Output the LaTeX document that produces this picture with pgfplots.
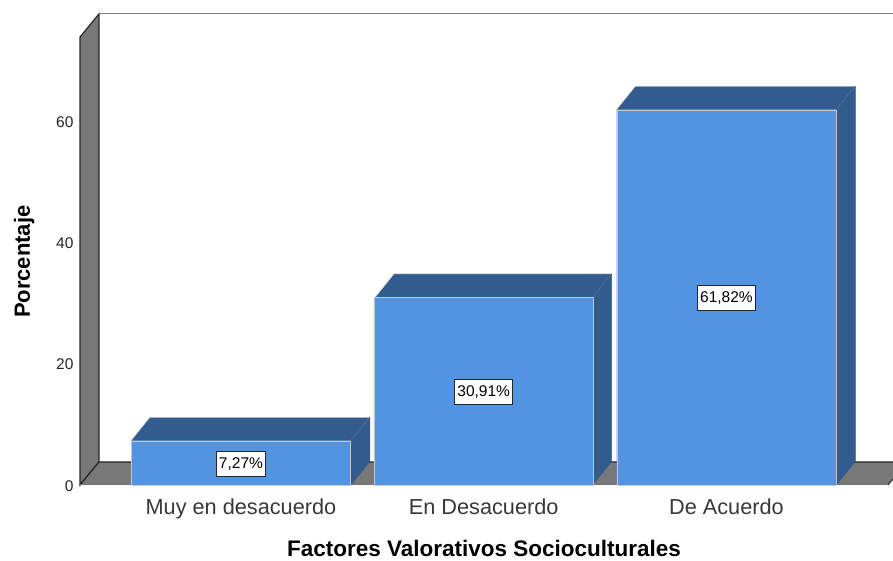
\documentclass[border=0pt]{standalone}
\usepackage{pgfplots}
\pgfplotsset{compat=1.18}
\usepackage{fontspec}
\setmainfont{Liberation Sans}
\definecolor{barfront}{HTML}{5294E2}
\definecolor{bardark}{HTML}{335C8E}
\definecolor{wallgrey}{HTML}{787878}
\definecolor{edgedark}{HTML}{262626}
\definecolor{edgelight}{HTML}{C4C8CE}
\begin{document}
\begin{tikzpicture}[x=1pt,y=1pt]
\useasboundingbox (0,0) rectangle (893,561);
\begin{axis}[
  at={(80pt,76pt)}, anchor=south west,
  scale only axis, width=813pt, height=471pt,
  xmin=-0.663, xmax=2.686, ymin=0, ymax=77.6,
  clip=false,
  axis line style={draw=none},
  tick style={draw=none},
  xtick={0,1,2},
  xticklabels={Muy en desacuerdo,En Desacuerdo,De Acuerdo},
  ytick={0,20,40,60},
  /pgf/number format/assume math mode=true,
  yticklabel style={font=\fontsize{15.5}{17}\selectfont, text=black!85, xshift=-3pt, yshift=-1pt},
  xticklabel style={font=\fontsize{21.7}{25}\selectfont, text=black!78, yshift=-10pt},
  xlabel={Factores Valorativos Socioculturales},
  ylabel={Porcentaje},
  every axis x label/.style={at={(axis description cs:0.497,-0.1345)}, anchor=center, font=\bfseries\fontsize{22.5}{26}\selectfont},
  every axis y label/.style={at={(axis description cs:-0.0688,0.474)}, anchor=center, rotate=90, font=\bfseries\fontsize{22}{26}\selectfont},
]
% left wall
\addplot[fill=wallgrey, draw=edgedark, line width=1.2pt, line join=miter] coordinates {(-0.663,0) (-0.663,73.8) (-0.585,77.6) (-0.585,3.79)} -- cycle;
% floor
\addplot[fill=wallgrey, draw=none] coordinates {(-0.663,0) (-0.585,3.79) (2.686,3.79) (2.686,0.99) (2.665,0)} -- cycle;
\addplot[draw=edgedark, line width=1.2pt] coordinates {(-0.663,0) (-0.585,3.79) (2.686,3.79)};
\addplot[draw=edgedark, line width=1pt] coordinates {(2.686,0.99) (2.665,0)};
% back top edge
\addplot[draw=black!50, line width=1pt] coordinates {(-0.585,77.6) (2.686,77.6)};
% bottom edge
\addplot[draw=black!55, line width=1pt] coordinates {(-0.663,0) (2.665,0)};
% bar tops and sides: value, value + depth
\addplot[fill=bardark, draw=edgelight, line width=0.4pt] coordinates {(-0.453,7.27) (-0.375,11.14) (0.531,11.14) (0.453,7.27)} -- cycle;
\addplot[fill=bardark, draw=bardark, line width=0.4pt] coordinates {(0.453,0) (0.453,7.27) (0.531,11.14) (0.531,3.87)} -- cycle;
\addplot[fill=bardark, draw=edgelight, line width=0.4pt] coordinates {(0.553,30.91) (0.631,34.78) (1.527,34.78) (1.449,30.91)} -- cycle;
\addplot[fill=bardark, draw=bardark, line width=0.4pt] coordinates {(1.449,0) (1.449,30.91) (1.527,34.78) (1.527,3.87)} -- cycle;
\addplot[fill=bardark, draw=edgelight, line width=0.4pt] coordinates {(1.547,61.82) (1.625,65.69) (2.531,65.69) (2.453,61.82)} -- cycle;
\addplot[fill=bardark, draw=bardark, line width=0.4pt] coordinates {(2.453,0) (2.453,61.82) (2.531,65.69) (2.531,3.87)} -- cycle;
% bar fronts
\addplot[ybar, bar width=0.904, fill=barfront, draw=edgelight, line width=0.4pt] coordinates {(0,7.27) (1,30.91) (2,61.82)};
% value labels
\tikzset{vl/.style={fill=white, draw=edgedark, line width=0.9pt, inner sep=0pt, minimum height=25pt, text=black, font=\fontsize{15.5}{17}\selectfont, align=center, yshift=-1pt}}
\node[vl, minimum width=49pt] at (axis cs:0,3.635) {7,27\%};
\node[vl, minimum width=58pt] at (axis cs:1,15.455) {30,91\%};
\node[vl, minimum width=58pt] at (axis cs:2,30.91) {61,82\%};
\end{axis}
\end{tikzpicture}
\end{document}
